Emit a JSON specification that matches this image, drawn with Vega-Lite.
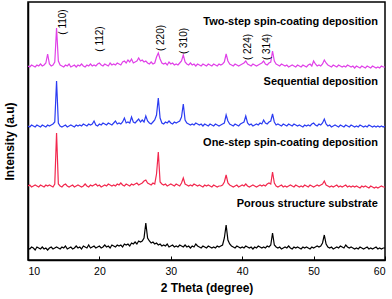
{
"$schema":"https://vega.github.io/schema/vega-lite/v6.json",
"width":357,"height":258,
"autosize":{"type":"none"},
"padding":{"left":28,"top":2,"right":7,"bottom":39},
"background":"white",
"config":{"view":{"stroke":"#000","strokeWidth":1.5},"font":"Liberation Sans","axis":{"grid":false}},
"datasets":{"xrd":[
{"x":10,"m":194,"b":134,"r":74,"k":12},{"x":10.25,"m":193,"b":133,"r":75,"k":11},{"x":10.5,"m":195,"b":135,"r":73,"k":13},{"x":10.75,"m":194,"b":134,"r":74,"k":12},
{"x":11,"m":193,"b":133,"r":75,"k":10},{"x":11.25,"m":195,"b":135,"r":74,"k":13},{"x":11.5,"m":194,"b":134,"r":73,"k":12},{"x":11.75,"m":196,"b":133,"r":75,"k":11},
{"x":12,"m":194,"b":135,"r":74,"k":13},{"x":12.25,"m":195,"b":134,"r":73,"k":11},{"x":12.5,"m":197,"b":133,"r":75,"k":12},{"x":12.75,"m":206,"b":135,"r":74,"k":10},
{"x":13,"m":196,"b":134,"r":75,"k":12},{"x":13.25,"m":194,"b":135,"r":74,"k":13},{"x":13.5,"m":195,"b":136,"r":73,"k":11},{"x":13.75,"m":198,"b":138,"r":76,"k":12},
{"x":14,"m":232,"b":179,"r":127,"k":13},{"x":14.25,"m":199,"b":137,"r":76,"k":12},{"x":14.5,"m":195,"b":134,"r":74,"k":11},{"x":14.75,"m":194,"b":133,"r":73,"k":13},
{"x":15,"m":193,"b":134,"r":75,"k":12},{"x":15.25,"m":195,"b":135,"r":76,"k":14},{"x":15.5,"m":194,"b":133,"r":74,"k":11},{"x":15.75,"m":196,"b":134,"r":73,"k":12},
{"x":16,"m":193,"b":135,"r":74,"k":13},{"x":16.25,"m":194,"b":134,"r":75,"k":11},{"x":16.5,"m":195,"b":133,"r":73,"k":12},{"x":16.75,"m":193,"b":135,"r":74,"k":14},
{"x":17,"m":195,"b":134,"r":75,"k":12},{"x":17.25,"m":194,"b":135,"r":74,"k":13},{"x":17.5,"m":196,"b":134,"r":73,"k":11},{"x":17.75,"m":194,"b":136,"r":74,"k":14},
{"x":18,"m":193,"b":135,"r":76,"k":13},{"x":18.25,"m":195,"b":134,"r":74,"k":12},{"x":18.5,"m":194,"b":136,"r":73,"k":15},{"x":18.75,"m":196,"b":135,"r":75,"k":12},
{"x":19,"m":194,"b":136,"r":74,"k":13},{"x":19.25,"m":195,"b":139,"r":75,"k":14},{"x":19.5,"m":194,"b":135,"r":76,"k":12},{"x":19.75,"m":196,"b":134,"r":74,"k":13},
{"x":20,"m":197,"b":136,"r":75,"k":14},{"x":20.25,"m":195,"b":135,"r":73,"k":12},{"x":20.5,"m":194,"b":137,"r":74,"k":13},{"x":20.75,"m":196,"b":136,"r":75,"k":15},
{"x":21,"m":195,"b":135,"r":74,"k":13},{"x":21.25,"m":194,"b":137,"r":76,"k":14},{"x":21.5,"m":197,"b":136,"r":75,"k":12},{"x":21.75,"m":195,"b":135,"r":74,"k":15},
{"x":22,"m":196,"b":137,"r":75,"k":14},{"x":22.25,"m":195,"b":139,"r":74,"k":13},{"x":22.5,"m":197,"b":136,"r":76,"k":15},{"x":22.75,"m":196,"b":137,"r":75,"k":14},
{"x":23,"m":195,"b":136,"r":77,"k":15},{"x":23.25,"m":198,"b":138,"r":75,"k":13},{"x":23.5,"m":199,"b":142,"r":74,"k":16},{"x":23.75,"m":197,"b":137,"r":76,"k":15},
{"x":24,"m":200,"b":138,"r":75,"k":16},{"x":24.25,"m":198,"b":137,"r":74,"k":14},{"x":24.5,"m":201,"b":143,"r":76,"k":17},{"x":24.75,"m":197,"b":138,"r":75,"k":16},
{"x":25,"m":198,"b":137,"r":76,"k":18},{"x":25.25,"m":199,"b":139,"r":77,"k":16},{"x":25.5,"m":202,"b":141,"r":75,"k":19},{"x":25.75,"m":199,"b":138,"r":76,"k":18},
{"x":26,"m":200,"b":140,"r":77,"k":19},{"x":26.25,"m":198,"b":138,"r":79,"k":22},{"x":26.5,"m":199,"b":144,"r":80,"k":37},{"x":26.75,"m":197,"b":139,"r":77,"k":22},
{"x":27,"m":196,"b":137,"r":76,"k":19},{"x":27.25,"m":198,"b":136,"r":75,"k":17},{"x":27.5,"m":196,"b":138,"r":77,"k":18},{"x":27.75,"m":197,"b":140,"r":76,"k":16},
{"x":28,"m":203,"b":145,"r":86,"k":17},{"x":28.25,"m":207,"b":162,"r":108,"k":15},{"x":28.5,"m":201,"b":142,"r":78,"k":16},{"x":28.75,"m":197,"b":137,"r":76,"k":14},
{"x":29,"m":196,"b":136,"r":75,"k":15},{"x":29.25,"m":197,"b":138,"r":76,"k":14},{"x":29.5,"m":195,"b":137,"r":74,"k":16},{"x":29.75,"m":198,"b":139,"r":75,"k":13},
{"x":30,"m":196,"b":137,"r":76,"k":14},{"x":30.25,"m":197,"b":136,"r":75,"k":15},{"x":30.5,"m":195,"b":138,"r":74,"k":13},{"x":30.75,"m":196,"b":137,"r":76,"k":14},
{"x":31,"m":195,"b":138,"r":75,"k":13},{"x":31.25,"m":197,"b":139,"r":74,"k":15},{"x":31.5,"m":199,"b":143,"r":77,"k":14},{"x":31.75,"m":205,"b":156,"r":82,"k":13},
{"x":32,"m":198,"b":140,"r":76,"k":15},{"x":32.25,"m":196,"b":137,"r":75,"k":13},{"x":32.5,"m":195,"b":136,"r":74,"k":14},{"x":32.75,"m":197,"b":135,"r":75,"k":12},
{"x":33,"m":195,"b":136,"r":74,"k":14},{"x":33.25,"m":196,"b":135,"r":76,"k":13},{"x":33.5,"m":194,"b":137,"r":75,"k":16},{"x":33.75,"m":196,"b":136,"r":74,"k":14},
{"x":34,"m":195,"b":135,"r":75,"k":13},{"x":34.25,"m":194,"b":136,"r":74,"k":12},{"x":34.5,"m":196,"b":134,"r":73,"k":14},{"x":34.75,"m":195,"b":136,"r":75,"k":13},
{"x":35,"m":194,"b":135,"r":74,"k":12},{"x":35.25,"m":196,"b":134,"r":75,"k":14},{"x":35.5,"m":195,"b":136,"r":74,"k":13},{"x":35.75,"m":194,"b":135,"r":73,"k":12},
{"x":36,"m":196,"b":134,"r":75,"k":13},{"x":36.25,"m":195,"b":136,"r":74,"k":12},{"x":36.5,"m":194,"b":135,"r":73,"k":14},{"x":36.75,"m":196,"b":134,"r":74,"k":13},
{"x":37,"m":195,"b":135,"r":74,"k":14},{"x":37.25,"m":196,"b":136,"r":75,"k":15},{"x":37.5,"m":198,"b":137,"r":78,"k":22},{"x":37.75,"m":206,"b":145,"r":85,"k":35},
{"x":38,"m":199,"b":139,"r":77,"k":20},{"x":38.25,"m":196,"b":136,"r":75,"k":16},{"x":38.5,"m":195,"b":135,"r":74,"k":14},{"x":38.75,"m":194,"b":134,"r":73,"k":13},
{"x":39,"m":196,"b":136,"r":74,"k":12},{"x":39.25,"m":195,"b":135,"r":75,"k":14},{"x":39.5,"m":194,"b":134,"r":73,"k":13},{"x":39.75,"m":195,"b":136,"r":74,"k":12},
{"x":40,"m":196,"b":137,"r":75,"k":13},{"x":40.25,"m":197,"b":138,"r":74,"k":12},{"x":40.5,"m":199,"b":144,"r":76,"k":14},{"x":40.75,"m":196,"b":137,"r":74,"k":13},
{"x":41,"m":195,"b":135,"r":73,"k":12},{"x":41.25,"m":194,"b":136,"r":74,"k":13},{"x":41.5,"m":196,"b":134,"r":75,"k":11},{"x":41.75,"m":195,"b":135,"r":74,"k":13},
{"x":42,"m":194,"b":136,"r":73,"k":12},{"x":42.25,"m":195,"b":135,"r":74,"k":14},{"x":42.5,"m":196,"b":137,"r":75,"k":13},{"x":42.75,"m":197,"b":136,"r":74,"k":12},
{"x":43,"m":199,"b":140,"r":75,"k":13},{"x":43.25,"m":196,"b":137,"r":74,"k":12},{"x":43.5,"m":195,"b":136,"r":76,"k":14},{"x":43.75,"m":197,"b":138,"r":77,"k":13},
{"x":44,"m":198,"b":139,"r":76,"k":15},{"x":44.25,"m":209,"b":146,"r":88,"k":27},{"x":44.5,"m":199,"b":138,"r":77,"k":15},{"x":44.75,"m":196,"b":135,"r":74,"k":13},
{"x":45,"m":195,"b":136,"r":73,"k":12},{"x":45.25,"m":194,"b":135,"r":74,"k":13},{"x":45.5,"m":196,"b":134,"r":75,"k":11},{"x":45.75,"m":195,"b":136,"r":73,"k":12},
{"x":46,"m":194,"b":135,"r":74,"k":13},{"x":46.25,"m":195,"b":134,"r":73,"k":12},{"x":46.5,"m":193,"b":136,"r":74,"k":14},{"x":46.75,"m":194,"b":135,"r":75,"k":12},
{"x":47,"m":195,"b":134,"r":74,"k":11},{"x":47.25,"m":194,"b":136,"r":73,"k":13},{"x":47.5,"m":193,"b":135,"r":75,"k":12},{"x":47.75,"m":195,"b":134,"r":74,"k":13},
{"x":48,"m":194,"b":135,"r":73,"k":12},{"x":48.25,"m":193,"b":134,"r":74,"k":11},{"x":48.5,"m":195,"b":133,"r":73,"k":13},{"x":48.75,"m":194,"b":135,"r":75,"k":12},
{"x":49,"m":193,"b":134,"r":74,"k":13},{"x":49.25,"m":195,"b":135,"r":73,"k":12},{"x":49.5,"m":196,"b":134,"r":75,"k":11},{"x":49.75,"m":194,"b":136,"r":74,"k":13},
{"x":50,"m":199,"b":137,"r":73,"k":12},{"x":50.25,"m":196,"b":135,"r":74,"k":13},{"x":50.5,"m":194,"b":134,"r":75,"k":14},{"x":50.75,"m":195,"b":136,"r":74,"k":13},
{"x":51,"m":194,"b":135,"r":75,"k":14},{"x":51.25,"m":196,"b":137,"r":76,"k":17},{"x":51.5,"m":200,"b":141,"r":79,"k":25},{"x":51.75,"m":197,"b":136,"r":75,"k":16},
{"x":52,"m":195,"b":134,"r":74,"k":13},{"x":52.25,"m":194,"b":135,"r":73,"k":12},{"x":52.5,"m":193,"b":133,"r":74,"k":13},{"x":52.75,"m":195,"b":134,"r":73,"k":11},
{"x":53,"m":194,"b":135,"r":74,"k":12},{"x":53.25,"m":193,"b":134,"r":75,"k":13},{"x":53.5,"m":195,"b":133,"r":73,"k":12},{"x":53.75,"m":194,"b":135,"r":74,"k":14},
{"x":54,"m":193,"b":134,"r":73,"k":13},{"x":54.25,"m":194,"b":133,"r":74,"k":12},{"x":54.5,"m":193,"b":135,"r":75,"k":15},{"x":54.75,"m":195,"b":134,"r":73,"k":13},
{"x":55,"m":194,"b":133,"r":74,"k":12},{"x":55.25,"m":193,"b":135,"r":73,"k":13},{"x":55.5,"m":194,"b":134,"r":74,"k":12},{"x":55.75,"m":192,"b":133,"r":73,"k":11},
{"x":56,"m":194,"b":134,"r":74,"k":12},{"x":56.25,"m":193,"b":133,"r":73,"k":11},{"x":56.5,"m":192,"b":135,"r":72,"k":13},{"x":56.75,"m":194,"b":134,"r":74,"k":12},
{"x":57,"m":193,"b":133,"r":73,"k":11},{"x":57.25,"m":192,"b":134,"r":74,"k":12},{"x":57.5,"m":194,"b":133,"r":73,"k":13},{"x":57.75,"m":193,"b":135,"r":72,"k":11},
{"x":58,"m":192,"b":134,"r":74,"k":12},{"x":58.25,"m":194,"b":133,"r":73,"k":11},{"x":58.5,"m":193,"b":134,"r":72,"k":12},{"x":58.75,"m":192,"b":133,"r":73,"k":13},
{"x":59,"m":193,"b":134,"r":72,"k":11},{"x":59.25,"m":192,"b":133,"r":73,"k":12},{"x":59.5,"m":194,"b":134,"r":74,"k":11},{"x":59.75,"m":193,"b":133,"r":73,"k":12},
{"x":60,"m":193,"b":134,"r":73,"k":12}
],
"names":[
{"t":"Two-step spin-coating deposition","x":59,"y":238},
{"t":"Sequential deposition","x":59,"y":178},
{"t":"One-step spin-coating deposition","x":59,"y":117},
{"t":"Porous structure substrate","x":59,"y":56}
],
"peaks":[
{"t":"( 110)","x":14.9,"y":238},
{"t":"( 112)","x":20.1,"y":221},
{"t":"( 220)","x":28.6,"y":222},
{"t":"( 310)","x":31.85,"y":219},
{"t":"( 224)","x":40.8,"y":213},
{"t":"( 314)","x":43.5,"y":213}
]},
"layer":[
{"data":{"name":"xrd"},
 "transform":[{"fold":["m","b","r","k"],"as":["s","v"]}],
 "mark":{"type":"line","strokeWidth":1.2,"clip":true},
 "encoding":{
  "x":{"field":"x","type":"quantitative","scale":{"domain":[10,60],"nice":false},
   "axis":{"title":"2 Theta (degree)","values":[10,15,20,25,30,35,40,45,50,55,60],"labelExpr":"datum.value % 10 === 0 ? datum.label : ''","tickSize":-4,"tickColor":"#000","domainColor":"#000","domainWidth":1.5,"labelColor":"#000","labelFontSize":10.5,"labelPadding":10,"titleFontSize":12,"titleFontWeight":"bold","titleColor":"#000","titlePadding":6}},
  "y":{"field":"v","type":"quantitative","scale":{"domain":[0,258],"nice":false,"zero":false},
   "axis":{"title":"Intensity (a.u)","labels":false,"ticks":false,"domainColor":"#000","domainWidth":1.5,"titleFontSize":12,"titleFontWeight":"bold","titleColor":"#000","titlePadding":12,"titleY":139}},
  "color":{"field":"s","type":"nominal","scale":{"domain":["m","b","r","k"],"range":["#e040e8","#2b3cf2","#f2284e","#000000"]},"legend":null},
  "detail":{"field":"s"}
 }},
{"data":{"name":"names"},
 "mark":{"type":"text","align":"right","baseline":"middle","fontWeight":"bold","fontSize":11,"color":"#000"},
 "encoding":{"x":{"field":"x","type":"quantitative"},"y":{"field":"y","type":"quantitative"},"text":{"field":"t"}}},
{"data":{"name":"peaks"},
 "mark":{"type":"text","align":"center","baseline":"middle","angle":270,"fontSize":10,"color":"#000"},
 "encoding":{"x":{"field":"x","type":"quantitative"},"y":{"field":"y","type":"quantitative"},"text":{"field":"t"}}}
]
}
